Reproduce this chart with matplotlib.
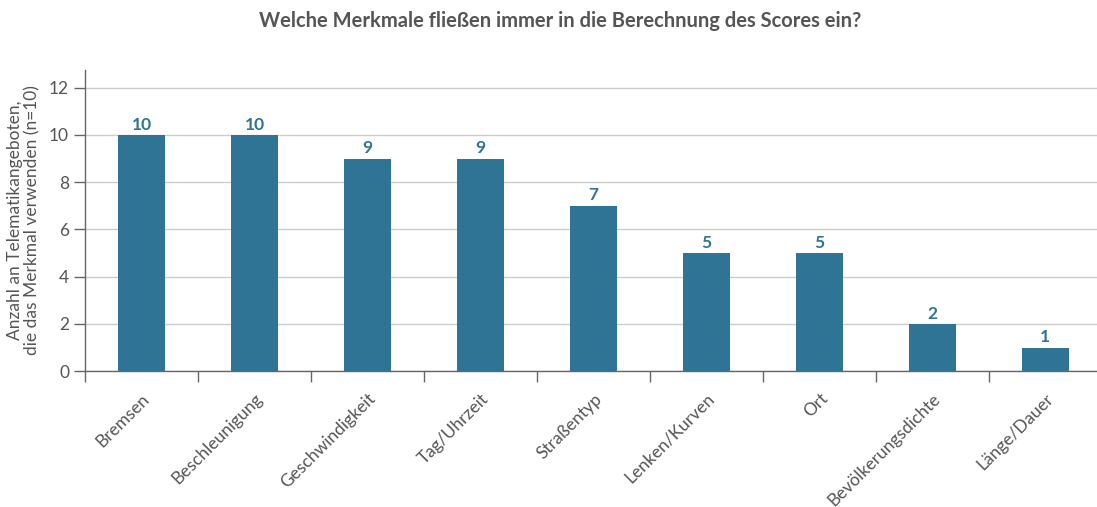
import matplotlib.pyplot as plt
import numpy as np

# Chart data
categories = ["Bremsen", "Beschleunigung", "Geschwindigkeit", "Tag/Uhrzeit", "Straßentyp",
              "Lenken/Kurven", "Ort", "Bevölkerungsdichte", "Länge/Dauer"]
counts = [10, 10, 9, 9, 7, 5, 5, 2, 1]
yticks = [0, 2, 4, 6, 8, 10, 12]

barColor = "#2f7494"
textColor = "#555555"

plt.rcParams['font.family'] = ['Lato', 'DejaVu Sans']

fig = plt.figure(figsize=(10.97, 5.07), dpi=100)
ax = fig.add_axes([0.0775, 0.268, 0.927, 0.594])

x = np.arange(len(categories))
bars = ax.bar(x, counts, width=0.41, color=barColor, zorder=3)

# value labels above bars
for xi, v in zip(x, counts):
    ax.text(xi, v + 0.1, str(v), ha='center', va='bottom', color=barColor,
            fontsize=12.5, fontweight='bold')

ax.set_xlim(-0.5, len(categories) - 0.5)
ax.set_ylim(0, 12.75)
ax.set_yticks(yticks)
ax.yaxis.grid(True, color="#cccccc", linewidth=1, zorder=0)

# x ticks: labels at bar centers, tick marks between categories
ax.set_xticks(x)
ax.set_xticklabels(categories, rotation=45, ha='right', rotation_mode='anchor')
ax.set_xticks(np.arange(-0.5, len(categories), 1.0), minor=True)
ax.tick_params(axis='x', which='major', length=0, pad=14, labelsize=12.5, labelcolor=textColor)
ax.tick_params(axis='x', which='minor', length=8, width=1, color="#666666", direction='out')
ax.tick_params(axis='y', length=8, width=1, color="#666666", labelsize=12.5, labelcolor=textColor)

for side in ['top', 'right']:
    ax.spines[side].set_visible(False)
for side in ['left', 'bottom']:
    ax.spines[side].set_color("#666666")
    ax.spines[side].set_linewidth(1)

ax.set_ylabel("Anzahl an Telematikangeboten,\ndie das Merkmal verwenden (n=10)",
              fontsize=12.5, color=textColor, labelpad=6, linespacing=1.15)

fig.suptitle("Welche Merkmale fließen immer in die Berechnung des Scores ein?",
             x=0.511, y=0.978, fontsize=14.5, fontweight='bold', color=textColor)

fig.savefig("out.png", dpi=100)
